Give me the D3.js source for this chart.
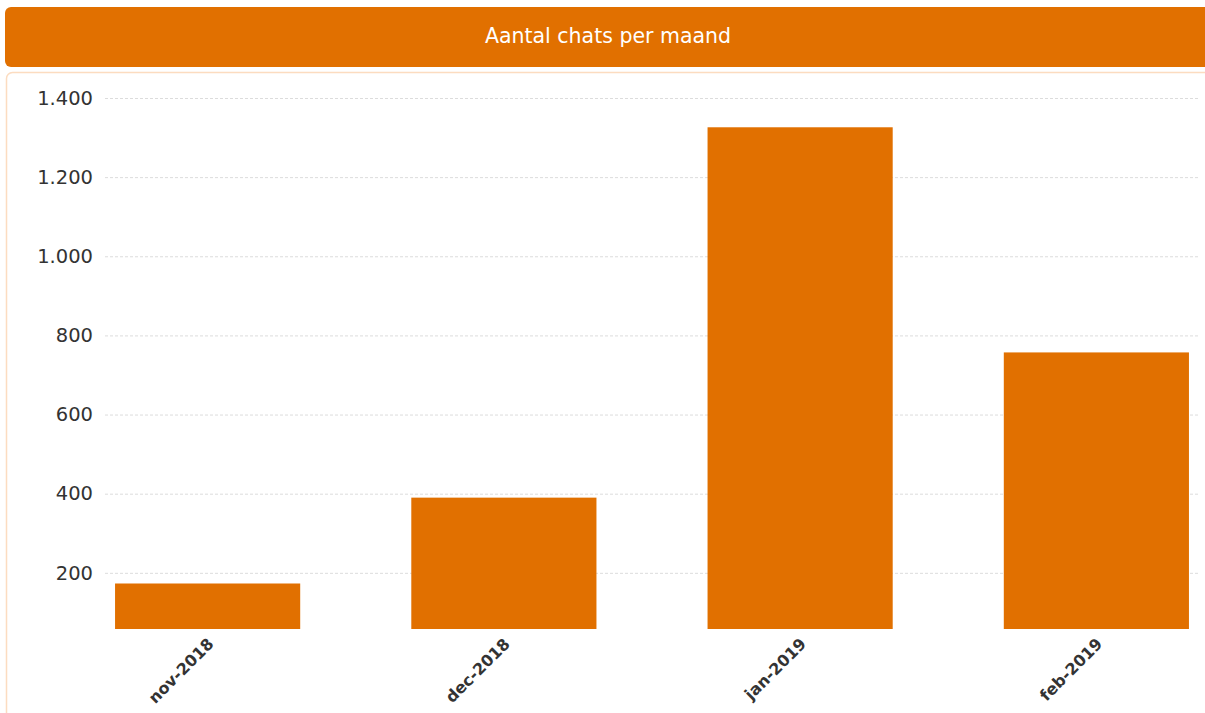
<!DOCTYPE html>
<html>
<head>
<meta charset="utf-8">
<script src="https://cdn.jsdelivr.net/npm/d3@7"></script>
<style>
  html, body { margin: 0; padding: 0; background: #fff; }
  svg { display: block; }
</style>
</head>
<body>
<svg id="chart" width="1205" height="713"></svg>
<script>
// Chats per month
const months = ["nov-2018", "dec-2018", "jan-2019", "feb-2019"];
const chats = [173, 390, 1326, 757];
const yTicks = [200, 400, 600, 800, 1000, 1200, 1400];
const title = "Aantal chats per maand";

const W = 1205, H = 713;
const orange = "#e17000";
const svg = d3.select("#chart");

// header bar
svg.append("rect")
  .attr("x", 5).attr("y", 7).attr("width", 1215).attr("height", 60)
  .attr("rx", 6).attr("fill", orange);
svg.append("text")
  .attr("x", 608).attr("y", 36)
  .attr("text-anchor", "middle").attr("dominant-baseline", "central")
  .attr("fill", "#fff")
  .style("font-family", "'DejaVu Sans', Verdana, sans-serif")
  .style("font-size", "20.5px")
  .text(title);

// panel frame
svg.append("rect")
  .attr("x", 6.5).attr("y", 72.5).attr("width", 1220).attr("height", 700)
  .attr("rx", 6).attr("fill", "#fff")
  .attr("stroke", "#fcdcc0").attr("stroke-width", 1.5);

const plotTop = 98, plotBottom = 629;
const gridLeft = 105, gridRight = 1200;

const y = d3.scaleLinear().domain([58, 1400]).range([plotBottom, plotTop]);
const x = d3.scaleBand().domain(months).range([59.5, 1244.5])
  .paddingInner(0.375).paddingOuter(0.1875);

const fmt = v => d3.format(",")(v).replace(/,/g, ".");

// gridlines and y labels
const yAxis = d3.axisLeft(y).tickValues(yTicks).tickFormat(fmt)
  .tickSize(-(gridRight - gridLeft)).tickPadding(12);
const gy = svg.append("g").attr("transform", `translate(${gridLeft},0)`).call(yAxis);
gy.select(".domain").remove();
gy.selectAll(".tick line")
  .attr("stroke", "#dcdcdc").attr("stroke-dasharray", "3,2");
gy.selectAll(".tick text")
  .attr("fill", "#333")
  .style("font-family", "'DejaVu Sans', Verdana, sans-serif")
  .style("font-size", "19.5px");

// bars
svg.append("g").selectAll("rect").data(months).join("rect")
  .attr("x", d => x(d))
  .attr("width", x.bandwidth())
  .attr("y", (d, i) => y(chats[i]))
  .attr("height", (d, i) => plotBottom - y(chats[i]))
  .attr("fill", orange);

// x labels
const xAxis = d3.axisBottom(x).tickSize(0).tickPadding(0);
const gx = svg.append("g").attr("transform", `translate(0,${plotBottom})`).call(xAxis);
gx.select(".domain").remove();
gx.selectAll(".tick text")
  .attr("text-anchor", "end")
  .attr("dy", null)
  .attr("transform", "translate(7,16) rotate(-45)")
  .attr("fill", "#333")
  .style("font-family", "'DejaVu Sans', Verdana, sans-serif")
  .style("font-weight", "bold")
  .style("font-size", "16px");
</script>
</body>
</html>
